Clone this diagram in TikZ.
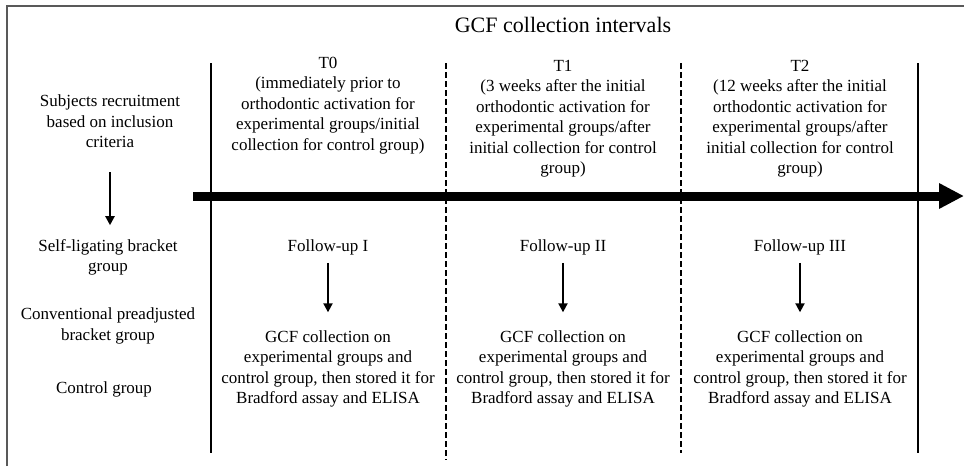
\documentclass[tikz,border=0pt]{standalone}
\usepackage{fontspec}
\setmainfont{Liberation Serif}
\usetikzlibrary{arrows.meta,positioning}

\begin{document}
\begin{tikzpicture}[x=1pt, y=-1pt,
    txt/.style={align=center, inner sep=1pt, font=\fontsize{17}{20.5}\selectfont},
    frameline/.style={line width=1.5pt, draw=black!65},
    solidsep/.style={line width=2.4pt},
    dashsep/.style={line width=2.4pt, dash pattern=on 6pt off 3pt},
    timeline/.style={line width=9pt, -{Triangle[length=25pt,width=24pt]}},
    steparrow/.style={line width=2pt, -{Triangle[length=9pt,width=9pt]}}]

    \useasboundingbox (0, 0) rectangle (964, 466);

    % frame (left and top only)
    \draw[frameline] (7, 466) -- (7, 6) -- (964, 6);

    \node[txt, font=\fontsize{22}{26}\selectfont] (title) at (563, 25)
        {GCF collection intervals};

    % interval separators
    \draw[solidsep] (211, 63) -- (211, 453);
    \draw[dashsep] (446, 63) -- (446, 460);
    \draw[dashsep] (681, 63) -- (681, 453);
    \draw[solidsep] (918, 63) -- (918, 453);

    % time axis
    \coordinate (tstart) at (193, 196);
    \coordinate (tend) at (964, 196);
    \draw[timeline] (tstart) -- (tend);

    % subjects
    \node[txt] (recruit) at (110, 121.5)
        {Subjects recruitment\\based on inclusion\\criteria};
    \node[txt] (selflig) at (108, 257.5) {Self-ligating bracket\\group};
    \node[txt] (conv) at (108, 326) {Conventional preadjusted\\bracket group};
    \node[txt] (control) at (104, 389) {Control group};

    \draw[steparrow, shorten <=23pt, shorten >=13pt]
        (recruit.south) -- (recruit.south |- selflig.north);

    % collection points
    \node[txt] (tzero) at (328, 105.5)
        {T0\\(immediately prior to\\orthodontic activation for\\experimental groups/initial\\collection for control group)};
    \node[txt] (tone) at (563, 118.5)
        {T1\\(3 weeks after the initial\\orthodontic activation for\\experimental groups/after\\initial collection for control\\group)};
    \node[txt] (ttwo) at (800, 118.5)
        {T2\\(12 weeks after the initial\\orthodontic activation for\\experimental groups/after\\initial collection for control\\group)};

    % follow-ups
    \foreach \i/\x/\rnum in {1/328/I, 2/563/II, 3/800/III} {
        \node[txt] (follow\i) at (\x, 247) {Follow-up \rnum};
        \node[txt] (collect\i) at (\x, 369)
            {GCF collection on\\experimental groups and\\control group, then stored it for\\Bradford assay and ELISA};
        \draw[steparrow, shorten <=7pt, shorten >=17pt]
            (follow\i) -- (collect\i);
    }

\end{tikzpicture}
\end{document}
